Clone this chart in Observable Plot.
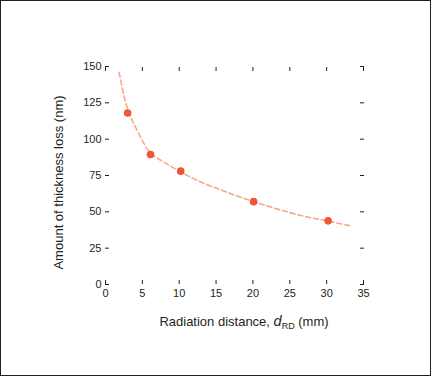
<!DOCTYPE html>
<html>
<head>
<meta charset="utf-8">
<script src="https://cdn.jsdelivr.net/npm/d3@7"></script>
<script src="https://cdn.jsdelivr.net/npm/@observablehq/plot@0.6"></script>
<style>
  html, body { margin: 0; padding: 0; background: #fff; }
  #wrap { position: relative; width: 431px; height: 376px; overflow: hidden; }
  #frame { position: absolute; left: 0; top: 0; width: 431px; height: 376px; box-sizing: border-box; border: 1px solid #231f20; pointer-events: none; }
</style>
</head>
<body>
<div id="wrap"><div id="frame"></div></div>
<script>
// Measured data points
const distance = [3, 6.1, 10.2, 20.1, 30.2];
const loss = [118, 89.5, 78, 57, 43.8];

// Dashed fitted curve
const fitX = [1.85, 2.5, 3.2, 4.2, 6.1, 8, 10.2, 12.5, 15.2, 20.1, 26.5, 30.3, 33.1];
const fitY = [146, 130, 118, 107, 90.5, 84, 77.5, 71.5, 66, 57, 47.5, 43.5, 40.5];

// Axis ticks
const xTicks = [0, 5, 10, 15, 20, 25, 30, 35];
const yTicks = [0, 25, 50, 75, 100, 125, 150];

const points = distance.map((d, i) => ({x: d, y: loss[i]}));
const fit = fitX.map((d, i) => ({x: d, y: fitY[i]}));

const ink = "#231f20";

const chart = Plot.plot({
  width: 431,
  height: 376,
  marginLeft: 105,
  marginRight: 68,
  marginTop: 66,
  marginBottom: 92,
  x: {domain: [0, 35]},
  y: {domain: [0, 150]},
  style: {fontFamily: "'Liberation Sans', Arial, Helvetica, sans-serif", fontSize: "11px", color: ink, background: "transparent"},
  marks: [
    Plot.axisX({anchor: "bottom", ticks: xTicks, tickSize: -4, tickPadding: 9, label: null, stroke: ink}),
    Plot.axisX({anchor: "top", ticks: xTicks, tickSize: -4, tickFormat: () => "", label: null, stroke: ink}),
    Plot.axisY({anchor: "left", ticks: yTicks, tickSize: -4, tickPadding: 8, label: null, stroke: ink}),
    Plot.axisY({anchor: "right", ticks: yTicks, tickSize: -4, tickFormat: () => "", label: null, stroke: ink}),
    Plot.line(fit, {x: "x", y: "y", stroke: "#f6a88b", strokeWidth: 1.6, strokeDasharray: "5,3", curve: "catmull-rom"}),
    Plot.dot(points, {x: "x", y: "y", r: 3.8, fill: "#ef5536", stroke: "none"}),
    Plot.text(["Amount of thickness loss (nm)"], {frameAnchor: "left", textAnchor: "middle", lineAnchor: "middle", rotate: -90, dx: -47, dy: 7, fontSize: 13, fill: ink})
  ]
});

const svg = d3.select(chart);
const xl = svg.append("text")
  .attr("x", 244)
  .attr("y", 326)
  .attr("text-anchor", "middle")
  .attr("fill", ink)
  .attr("font-size", 13)
  .attr("font-family", "'Liberation Sans', Arial, Helvetica, sans-serif");
xl.append("tspan").text("Radiation distance, ");
xl.append("tspan").attr("font-style", "italic").attr("font-size", 14.5).text("d");
xl.append("tspan").attr("font-size", 9).attr("dy", 2.5).text("RD");
xl.append("tspan").attr("dy", -2.5).text(" (mm)");

document.getElementById("wrap").insertBefore(chart, document.getElementById("frame"));
</script>
</body>
</html>
